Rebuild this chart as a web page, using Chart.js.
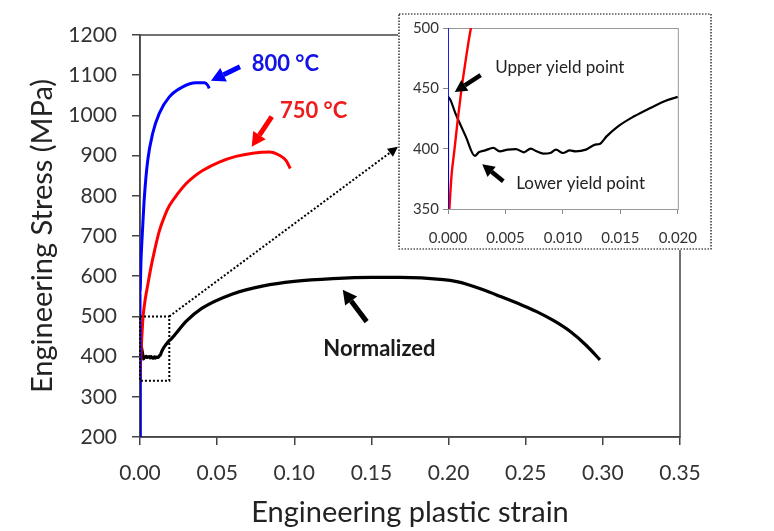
<!DOCTYPE html>
<html><head><meta charset="utf-8">
<script src="https://cdn.jsdelivr.net/npm/chart.js@4"></script>
<style>
html,body{margin:0;padding:0;background:#fff;}
#wrap{position:relative;width:774px;height:531px;overflow:hidden;}
#main{position:absolute;left:0;top:0;width:774px;height:531px;}
#inset{position:absolute;left:398px;top:13px;width:314px;height:237px;}
</style></head><body>
<div id="wrap">
<canvas id="main" width="774" height="531"></canvas>
<canvas id="inset" width="314" height="237"></canvas>
</div>
<script>
const FONT = 'Lato';

// ---- Series data (engineering plastic strain, engineering stress MPa) ----
const strain800 = [0, 0, 0.00065, 0.00173, 0.0028, 0.005, 0.0082, 0.0125, 0.019, 0.0277, 0.0363, 0.0417, 0.0439, 0.0449];
const stress800 = [200, 557, 639, 722, 795, 888, 955, 1005, 1046, 1071, 1081, 1081, 1075, 1067];

const strain750 = [0, 0.0003, 0.00056, 0.00085, 0.00113, 0.00155, 0.002, 0.0035, 0.0052, 0.0071, 0.0095, 0.0125, 0.016, 0.019, 0.0246, 0.0298, 0.0354, 0.0406, 0.0514, 0.0622, 0.073, 0.0838, 0.0903, 0.0946, 0.0974];
const stress750 = [330, 377, 399, 424, 446, 474, 500, 545, 582, 622, 665, 712, 750, 775, 806, 830, 849, 863, 884, 898, 906, 909, 901, 888, 868];

const strainNorm = [0, 0, 0.0007, 0.00155, 0.00234, 0.00268, 0.00324, 0.00394, 0.0045, 0.0052, 0.0059, 0.0066, 0.0072, 0.0077, 0.0083, 0.0089, 0.0094, 0.01, 0.0106, 0.0111, 0.012, 0.0128, 0.0132, 0.0138, 0.0148, 0.0162, 0.0176, 0.019, 0.02,
  0.03, 0.04, 0.06, 0.08, 0.1, 0.125, 0.15, 0.1685, 0.1966, 0.2053, 0.2118, 0.2225, 0.2333, 0.2463, 0.2571, 0.2679, 0.2787, 0.2895, 0.2981];
const stressNorm = [200, 443, 428, 410, 394, 397, 398.6, 400.6, 397.8, 399.2, 399.7, 397, 400, 397.8, 395.9, 396.4, 399.2, 396.4, 398.6, 397.8, 399.2, 403.3, 403.9, 410.2, 418.5, 426.8, 433.7, 440, 443,
  488, 520, 556, 576, 587, 594, 597, 597, 591.4, 586.4, 580, 566, 550, 530, 512, 490, 463, 427, 392];

// ---- Axis settings ----
const mainX = {min: 0, max: 0.35, step: 0.05, decimals: 2, title: 'Engineering plastic strain'};
const mainY = {min: 200, max: 1200, step: 100, title: 'Engineering Stress (MPa)'};
const insetX = {min: 0, max: 0.02, step: 0.005, decimals: 3};
const insetY = {min: 350, max: 500, step: 50};

// ---- Labels ----
const label800 = '800 °C';
const label750 = '750 °C';
const labelNorm = 'Normalized';
const labelUpper = 'Upper yield point';
const labelLower = 'Lower yield point';

const BLUE = '#0000ff', RED = '#ff0000', BLACK = '#000000';

function pts(xs, ys){ return xs.map((x,i)=>({x:x, y:ys[i]})); }

function arrow(ctx, x1, y1, x2, y2, color, w, headLen, headW){
  const a = Math.atan2(y2-y1, x2-x1);
  const bx = x2 - headLen*Math.cos(a), by = y2 - headLen*Math.sin(a);
  ctx.save();
  ctx.strokeStyle = color; ctx.lineWidth = w; ctx.lineCap = 'butt';
  if (w > 0) { ctx.beginPath(); ctx.moveTo(x1,y1); ctx.lineTo(bx,by); ctx.stroke(); }
  ctx.fillStyle = color; ctx.beginPath(); ctx.moveTo(x2,y2);
  ctx.lineTo(bx + headW/2*Math.sin(a), by - headW/2*Math.cos(a));
  ctx.lineTo(bx - headW/2*Math.sin(a), by + headW/2*Math.cos(a));
  ctx.closePath(); ctx.fill();
  ctx.restore();
}

function ds(data, color, width){
  return {data: data, borderColor: color, borderWidth: width, pointRadius: 0, pointHoverRadius: 0,
    cubicInterpolationMode: 'monotone', fill: false, borderJoinStyle: 'round', borderCapStyle: 'butt'};
}

const mainPlugin = {
  id: 'mainDecor',
  beforeDraw(chart){
    const c = chart.ctx; c.save(); c.fillStyle = '#fff'; c.fillRect(0,0,chart.width,chart.height); c.restore();
  },
  beforeDatasetsDraw(chart){
    const {ctx, chartArea: ca} = chart;
    ctx.save();
    ctx.strokeStyle = '#444'; ctx.lineWidth = 1.5;
    ctx.strokeRect(ca.left, ca.top, ca.right-ca.left, ca.bottom-ca.top);
    ctx.restore();
  },
  afterDraw(chart){
    const {ctx, scales: {x, y}} = chart;
    ctx.save();
    // zoom box (dotted)
    ctx.setLineDash([2,2]); ctx.lineWidth = 2; ctx.strokeStyle = '#000';
    const bx1 = x.getPixelForValue(0), bx2 = x.getPixelForValue(0.019);
    const by1 = y.getPixelForValue(500), by2 = y.getPixelForValue(340);
    ctx.strokeRect(bx1, by1, bx2-bx1, by2-by1);
    // dotted pointer
    const tx = x.getPixelForValue(0.1672), ty = y.getPixelForValue(922);
    const a = Math.atan2(ty-by1, tx-bx2);
    ctx.beginPath(); ctx.moveTo(bx2, by1); ctx.lineTo(tx - 10*Math.cos(a), ty - 10*Math.sin(a)); ctx.stroke();
    ctx.setLineDash([]);
    arrow(ctx, tx - 10*Math.cos(a), ty - 10*Math.sin(a), tx, ty, '#000', 0, 10, 10);
    // arrows
    arrow(ctx, x.getPixelForValue(0.0648), y.getPixelForValue(1121), x.getPixelForValue(0.0460), y.getPixelForValue(1086), BLUE, 5, 14, 15);
    arrow(ctx, x.getPixelForValue(0.0854), y.getPixelForValue(997), x.getPixelForValue(0.0724), y.getPixelForValue(922), RED, 5, 14, 15);
    arrow(ctx, x.getPixelForValue(0.1469), y.getPixelForValue(487), x.getPixelForValue(0.1314), y.getPixelForValue(566), BLACK, 5, 14, 15);
    // labels
    ctx.textAlign = 'left'; ctx.textBaseline = 'middle';
    ctx.font = 'bold 22px ' + FONT;
    ctx.fillStyle = '#1212e6'; ctx.fillText(label800, x.getPixelForValue(0.0724), y.getPixelForValue(1128));
    ctx.fillStyle = '#ee1c1c'; ctx.fillText(label750, x.getPixelForValue(0.0907), y.getPixelForValue(1010));
    ctx.fillStyle = '#1a1a1a'; ctx.fillText(labelNorm, x.getPixelForValue(0.1188), y.getPixelForValue(419));
    ctx.restore();
  }
};

const insetPlugin = {
  id: 'insetDecor',
  beforeDraw(chart){
    const c = chart.ctx; c.save(); c.fillStyle = '#fff'; c.fillRect(0,0,chart.width,chart.height); c.restore();
  },
  beforeDatasetsDraw(chart){
    const {ctx, chartArea: ca} = chart;
    ctx.save();
    ctx.strokeStyle = '#999'; ctx.lineWidth = 1;
    ctx.strokeRect(ca.left+0.5, ca.top+0.5, ca.right-ca.left, ca.bottom-ca.top);
    ctx.restore();
  },
  afterDraw(chart){
    const {ctx, scales: {x, y}} = chart;
    ctx.save();
    ctx.strokeStyle = '#000'; ctx.lineWidth = 1.2; ctx.setLineDash([1.5,1.5]);
    ctx.strokeRect(1, 1, chart.width-2, chart.height-2);
    ctx.setLineDash([]);
    arrow(ctx, x.getPixelForValue(0.00284), y.getPixelForValue(461), x.getPixelForValue(0.00059), y.getPixelForValue(447), BLACK, 4.5, 12, 13);
    arrow(ctx, x.getPixelForValue(0.00481), y.getPixelForValue(373), x.getPixelForValue(0.00298), y.getPixelForValue(387), BLACK, 4.5, 12, 13);
    ctx.font = '17px ' + FONT; ctx.fillStyle = '#222'; ctx.textAlign = 'left'; ctx.textBaseline = 'middle';
    ctx.fillText(labelUpper, x.getPixelForValue(0.00411), y.getPixelForValue(467));
    ctx.fillText(labelLower, x.getPixelForValue(0.00594), y.getPixelForValue(371));
    ctx.restore();
  }
};

function axisCommon(cfg, fontSize, tickLen, pad){
  return {
    type: 'linear', min: cfg.min, max: cfg.max,
    ticks: {stepSize: cfg.step, autoSkip: false, maxRotation: 0, padding: pad,
      font: {family: FONT, size: fontSize}, color: '#333',
      callback: v => cfg.decimals !== undefined ? Number(v).toFixed(cfg.decimals) : String(Math.round(v))},
    grid: {drawOnChartArea: false, drawTicks: true, tickLength: tickLen, color: '#444', lineWidth: 1.5},
    border: {display: true, color: '#444', width: 1.5}
  };
}

const mx = axisCommon(mainX, 21, 8, 16);
mx.afterFit = s => { s.height = 94; };
mx.title = {display: true, text: mainX.title, font: {family: FONT, size: 29}, color: '#222', padding: {top: 0, bottom: 1}};
const my = axisCommon(mainY, 21, 8, 15);
my.afterFit = s => { s.width = 140; };
my.title = {display: true, text: mainY.title, font: {family: FONT, size: 29}, color: '#222', padding: {top: 25, bottom: 0}};

new Chart(document.getElementById('main'), {
  type: 'line',
  data: {datasets: [
    ds(pts(strain800, stress800), BLUE, 3),
    ds(pts(strain750, stress750), RED, 3),
    ds(pts(strainNorm, stressNorm), BLACK, 3.2)
  ]},
  options: {
    responsive: false, animation: false, devicePixelRatio: 1,
    layout: {padding: {top: 35, right: 94, left: 0, bottom: 0}},
    plugins: {legend: {display: false}, tooltip: {enabled: false}},
    scales: {x: mx, y: my}
  },
  plugins: [mainPlugin]
});

const ix = axisCommon(insetX, 15, 5, 15);
ix.afterFit = s => { s.height = 41; };
ix.grid.color = '#888'; ix.grid.lineWidth = 1; ix.border.color = '#888'; ix.border.width = 1;
const iy = axisCommon(insetY, 15, 5, 4);
iy.afterFit = s => { s.width = 50; };
iy.grid.color = '#888'; iy.grid.lineWidth = 1; iy.border.color = '#888'; iy.border.width = 1;

new Chart(document.getElementById('inset'), {
  type: 'line',
  data: {datasets: [
    ds(pts(strain800, stress800), BLUE, 1.6),
    ds(pts(strain750, stress750), RED, 2.4),
    ds(pts(strainNorm, stressNorm), BLACK, 2.2)
  ]},
  options: {
    responsive: false, animation: false, devicePixelRatio: 1,
    layout: {padding: {top: 15, right: 27, left: 0, bottom: 0}},
    plugins: {legend: {display: false}, tooltip: {enabled: false}},
    scales: {x: ix, y: iy}
  },
  plugins: [insetPlugin]
});
</script>
</body></html>
